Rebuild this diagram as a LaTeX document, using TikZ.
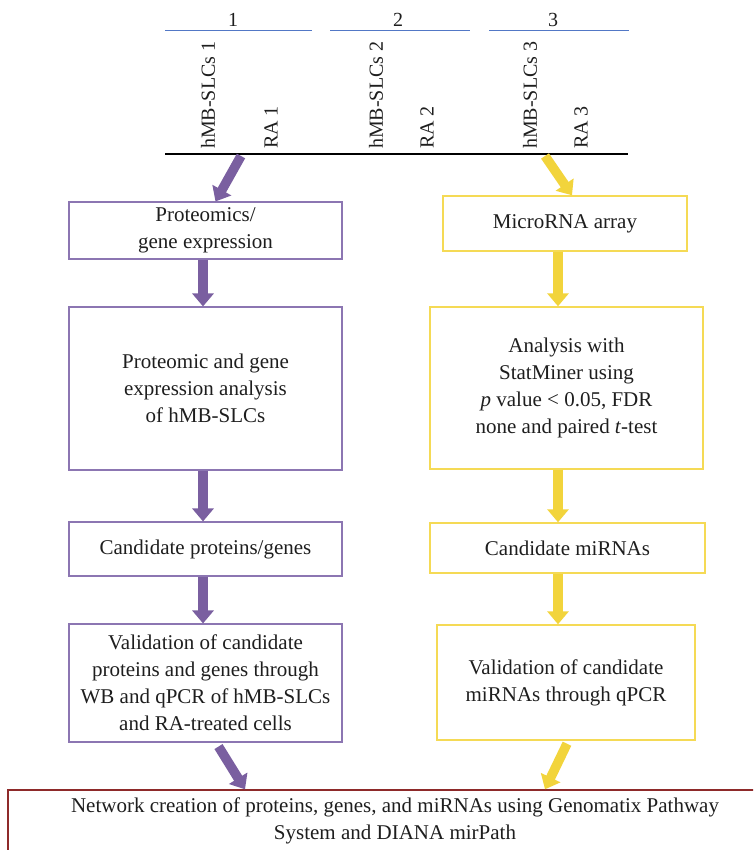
\documentclass[tikz,border=0pt]{standalone}
\usepackage{fontspec}
\setmainfont{Liberation Serif}
\usepackage{tikz}
\usetikzlibrary{
  arrows.meta,
  positioning,
  calc,
}
\definecolor{armPurple}{HTML}{7A5FA0}
\definecolor{armPurpleLine}{HTML}{8C76B2}
\definecolor{armYellow}{HTML}{F2D43C}
\definecolor{armYellowLine}{HTML}{F5DA55}
\definecolor{netRed}{HTML}{8E2A2A}
\definecolor{repBlue}{HTML}{5278C6}
\definecolor{inkBlack}{HTML}{1E1E1E}

\begin{document}
\begin{tikzpicture}[x=1pt, y=-1pt,
  stagebox/.style={draw, line width=1.1pt, align=center, inner sep=0pt,
    text=inkBlack, font=\fontsize{21}{27}\selectfont},
  purpleBox/.style={stagebox, draw=armPurpleLine},
  yellowBox/.style={stagebox, draw=armYellowLine, line width=1.4pt},
  fatArrow/.style={line width=9.5pt, -{Triangle[width=21pt, length=13pt]}},
  sampleLabel/.style={rotate=90, anchor=west, inner sep=0pt, text=inkBlack,
    font=\fontsize{20}{24}\selectfont},
]
  \useasboundingbox (0,0) rectangle (753,850);
  \clip (0,0) rectangle (753,850);

  % 3 replicates with their two samples
  \foreach \i/\xa/\xb/\xn/\xh/\xr in {1/165/312/233/208/271,
                                      2/330/470/398/376/427,
                                      3/489/629/553/530/581} {
    \draw[repBlue, line width=1pt] (\xa,31) -- (\xb,31);
    \node[text=inkBlack, font=\fontsize{20}{24}\selectfont] (rep\i) at (\xn,20) {\i};
    \node[sampleLabel] (hmb\i) at (\xh,149) {hMB-SLCs \i};
    \node[sampleLabel] (ra\i) at (\xr,149) {RA \i};
  }
  \coordinate (baseL) at (165,154);
  \coordinate (baseR) at (628,154);
  \draw[black, line width=1.1pt] (baseL) -- (baseR);
  \coordinate (pStart) at (241,156);
  \coordinate (yStart) at (545,156);

  % proteomics arm
  \node[purpleBox, minimum width=273pt, minimum height=57pt] (p1) at (205.5,230.5)
    {Proteomics/\\gene expression};
  \node[purpleBox, minimum width=273pt, minimum height=163pt] (p2) at (205.5,388.5)
    {Proteomic and gene\\expression analysis\\of hMB-SLCs};
  \node[purpleBox, minimum width=273pt, minimum height=54pt] (p3) at (205.5,549)
    {Candidate proteins/genes};
  \node[purpleBox, minimum width=273pt, minimum height=118pt] (p4) at (205.5,683)
    {Validation of candidate\\proteins and genes through\\WB and qPCR of hMB-SLCs\\and RA-treated cells};

  % microRNA arm
  \node[yellowBox, minimum width=244pt, minimum height=55pt] (y1) at (565,223.5)
    {MicroRNA array};
  \node[yellowBox, minimum width=273pt, minimum height=162pt] (y2) at (566.5,388)
    {Analysis with\\StatMiner using\\\textit{p} value \textless{} 0.05, FDR\\none and paired \textit{t}-test};
  \node[yellowBox, minimum width=275pt, minimum height=50pt] (y3) at (567.5,548)
    {Candidate miRNAs};
  \node[yellowBox, minimum width=258pt, minimum height=115pt] (y4) at (566,682.5)
    {Validation of candidate\\miRNAs through qPCR};

  % network
  \node[stagebox, draw=netRed, line width=1.4pt, minimum width=774pt,
        minimum height=62pt] (net) at (395,821)
    {Network creation of proteins, genes, and miRNAs using Genomatix Pathway\\System and DIANA mirPath};

  % arrows
  \draw[fatArrow, armPurple] (pStart) -- ([xshift=10pt]p1.north);
  \draw[fatArrow, armPurple] ([xshift=-2.5pt]p1.south) -- ([xshift=-2.5pt]p2.north);
  \draw[fatArrow, armPurple] ([xshift=-2.5pt]p2.south) -- ([xshift=-2.5pt]p3.north);
  \draw[fatArrow, armPurple] ([xshift=-2.5pt]p3.south) -- ([xshift=-2.5pt]p4.north);
  \draw[fatArrow, armPurple] ([xshift=13pt, yshift=-4pt]p4.south) -- ([xshift=-150pt]net.north);
  \draw[fatArrow, armYellow] (yStart) -- ([xshift=7pt]y1.north);
  \draw[fatArrow, armYellow] ([xshift=-7pt]y1.south) -- ([xshift=-8.5pt]y2.north);
  \draw[fatArrow, armYellow] ([xshift=-8.5pt]y2.south) -- ([xshift=-9.5pt]y3.north);
  \draw[fatArrow, armYellow] ([xshift=-9.5pt]y3.south) -- ([xshift=-8pt]y4.north);
  \draw[fatArrow, armYellow] ([xshift=1pt, yshift=-3pt]y4.south) -- ([xshift=150pt]net.north);
\end{tikzpicture}
\end{document}
